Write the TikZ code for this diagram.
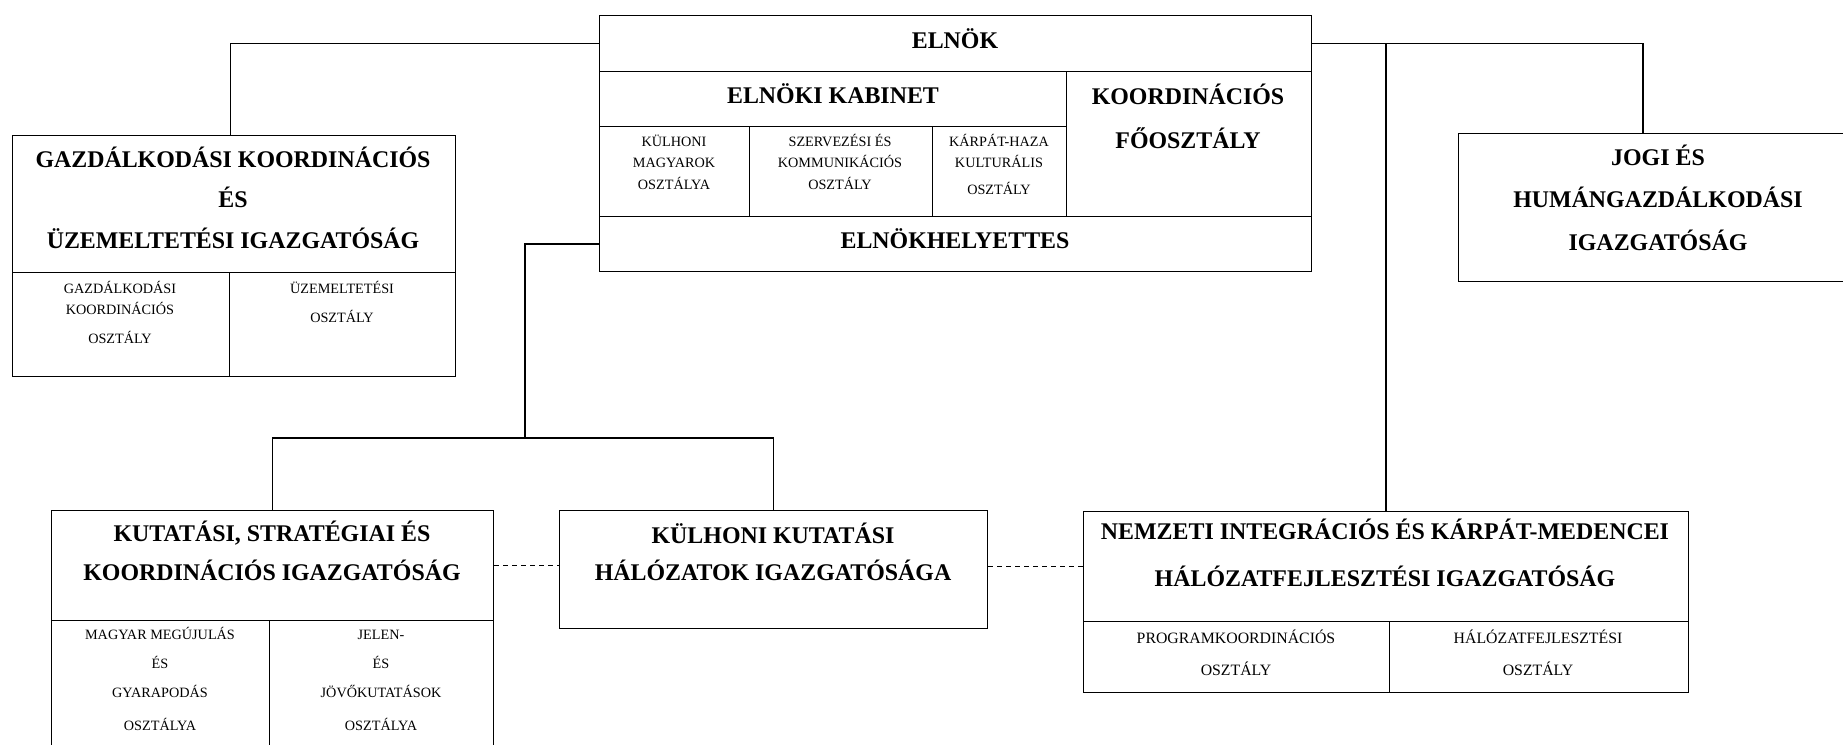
\documentclass[tikz,border=0pt]{standalone}
\usepackage{fontspec}
\setmainfont{Liberation Serif}
\usepackage{tikz}

\begin{document}
\begin{tikzpicture}[x=0.02cm, y=-0.02cm,
        box/.style={draw, line width=0.8pt, rectangle, inner sep=0pt, anchor=north west},
        head/.style={anchor=base, align=center, inner sep=0pt, font=\bfseries\fontsize{13.6}{21.6}\selectfont},
        small/.style={anchor=base, align=center, inner sep=0pt, font=\fontsize{8.1}{12}\selectfont},
        link/.style={line width=0.8pt},
        peer/.style={line width=0.6pt, dash pattern=on 2.8pt off 2.3pt}]
            \useasboundingbox (0,0) rectangle (1843,744);
            \clip (0,0) rectangle (1843,744);

            % Elnok block
            \node[box, minimum width=14.24cm, minimum height=1.12cm] (elnok) at (599,15) {};
            \node[box, minimum width=9.34cm, minimum height=1.10cm] (kabinet) at (599,71) {};
            \node[box, minimum width=3.00cm, minimum height=1.80cm] (kabA) at (599,126) {};
            \node[box, minimum width=3.66cm, minimum height=1.80cm] (kabB) at (749,126) {};
            \node[box, minimum width=2.68cm, minimum height=1.80cm] (kabC) at (932,126) {};
            \node[box, minimum width=4.90cm, minimum height=2.90cm] (koord) at (1066,71) {};
            \node[box, minimum width=14.24cm, minimum height=1.10cm] (helyettes) at (599,216) {};

            % texts sit on the baseline of their last line
            \node[head] (elnok-t) at (955,48) {ELNÖK};
            \node[head] (kabinet-t) at (833,103) {ELNÖKI KABINET};
            \node[head, font=\bfseries\fontsize{13.6}{25}\selectfont] (koord-t) at (1188,148) {KOORDINÁCIÓS\\FŐOSZTÁLY};
            \node[head] (helyettes-t) at (955,248) {ELNÖKHELYETTES};
            \node[small] (kabA-t) at (674,189) {KÜLHONI\\MAGYAROK\\OSZTÁLYA};
            \node[small] (kabB-t) at (840,189) {SZERVEZÉSI ÉS\\KOMMUNIKÁCIÓS\\OSZTÁLY};
            \node[small] (kabC-t) at (999,194) {KÁRPÁT-HAZA\\KULTURÁLIS\\[2.8pt]OSZTÁLY};

            % Gazdalkodasi block
            \node[box, minimum width=8.86cm, minimum height=2.74cm] (gazd) at (12,135) {};
            \node[box, minimum width=4.34cm, minimum height=2.08cm] (gazdA) at (12,272) {};
            \node[box, minimum width=4.52cm, minimum height=2.08cm] (gazdB) at (229,272) {};
            \node[head, font=\bfseries\fontsize{13.6}{23}\selectfont] (gazd-t) at (233,248) {GAZDÁLKODÁSI KOORDINÁCIÓS\\ÉS\\ÜZEMELTETÉSI IGAZGATÓSÁG};
            \node[small] (gazdA-t) at (120,343) {GAZDÁLKODÁSI\\KOORDINÁCIÓS\\[4pt]OSZTÁLY};
            \node[small] (gazdB-t) at (342,322) {ÜZEMELTETÉSI\\[4pt]OSZTÁLY};

            % Jogi block
            \node[box, minimum width=8.00cm, minimum height=2.96cm] (jogi) at (1458,133) {};
            \node[head, font=\bfseries\fontsize{13.6}{24}\selectfont] (jogi-t) at (1658,250) {JOGI ÉS\\HUMÁNGAZDÁLKODÁSI\\IGAZGATÓSÁG};

            % Lower row
            \node[box, minimum width=8.84cm, minimum height=2.20cm] (kut) at (51,510) {};
            \node[box, minimum width=4.36cm, minimum height=2.80cm] (kutA) at (51,620) {};
            \node[box, minimum width=4.48cm, minimum height=2.80cm] (kutB) at (269,620) {};
            \node[box, minimum width=8.56cm, minimum height=2.36cm] (kulkut) at (559,510) {};
            \node[box, minimum width=12.10cm, minimum height=2.20cm] (nemz) at (1083,511) {};
            \node[box, minimum width=6.12cm, minimum height=1.42cm] (nemzA) at (1083,621) {};
            \node[box, minimum width=5.98cm, minimum height=1.42cm] (nemzB) at (1389,621) {};

            \node[head, font=\bfseries\fontsize{13.6}{22}\selectfont] (kut-t) at (272,580) {KUTATÁSI, STRATÉGIAI ÉS\\KOORDINÁCIÓS IGAZGATÓSÁG};
            \node[small, font=\fontsize{8.1}{16.5}\selectfont] (kutA-t) at (160,730) {MAGYAR MEGÚJULÁS\\ÉS\\GYARAPODÁS\\[2pt]OSZTÁLYA};
            \node[small, font=\fontsize{8.1}{16.5}\selectfont] (kutB-t) at (381,730) {JELEN-\\ÉS\\JÖVŐKUTATÁSOK\\[2pt]OSZTÁLYA};
            \node[head, font=\bfseries\fontsize{13.6}{21}\selectfont] (kulkut-t) at (773,580) {KÜLHONI KUTATÁSI\\HÁLÓZATOK IGAZGATÓSÁGA};
            \node[head, font=\bfseries\fontsize{13.6}{26.7}\selectfont] (nemz-t) at (1385,586) {NEMZETI INTEGRÁCIÓS ÉS KÁRPÁT-MEDENCEI\\HÁLÓZATFEJLESZTÉSI IGAZGATÓSÁG};
            \node[small, font=\fontsize{9}{18.2}\selectfont] (nemzA-t) at (1236,675) {PROGRAMKOORDINÁCIÓS\\OSZTÁLY};
            \node[small, font=\fontsize{9}{18.2}\selectfont] (nemzB-t) at (1538,675) {HÁLÓZATFEJLESZTÉSI\\OSZTÁLY};

            % Edges
            \coordinate (jogi-in) at (1643,133);
            \coordinate (fork) at (525,438);
            \draw[link] (elnok.west) -| (gazdA.east |- gazd.north);
            \draw[link] (elnok.east) -| (jogi-in);
            \draw[link] (elnok.east -| nemz.north) -- (nemz.north);
            \draw[link] (helyettes.west) -| (fork);
            \draw[link] (kut.north) |- (kulkut.north |- fork) -- (kulkut.north);

            % Dashed links between directorates
            \draw[peer] (kut.east) -- (kut.east -| kulkut.west);
            \draw[peer] (kulkut.east |- nemz.west) -- (nemz.west);
\end{tikzpicture}
\end{document}
